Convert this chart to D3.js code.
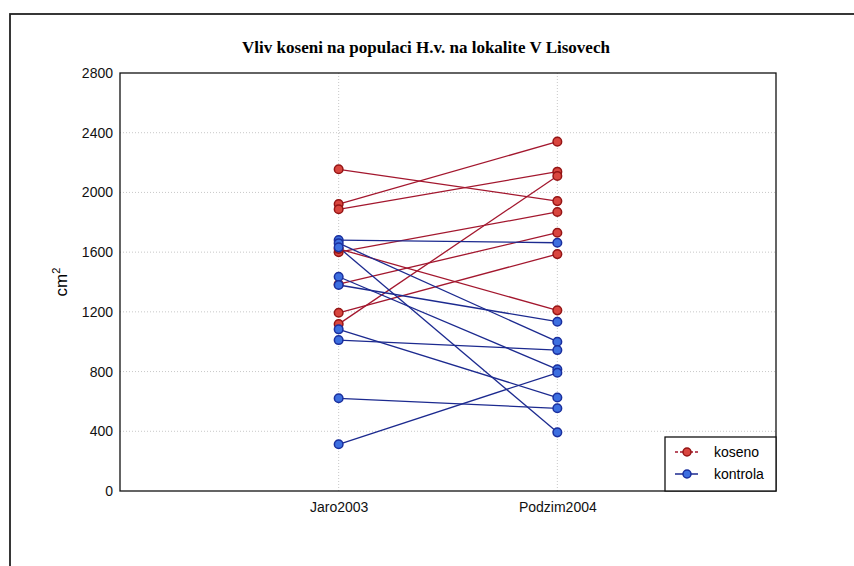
<!DOCTYPE html>
<html>
<head>
  <meta charset="utf-8">
  <script src="https://cdn.jsdelivr.net/npm/d3@7"></script>
  <style>
    html, body { margin: 0; background: #fff; }
    svg { display: block; font-family: "Liberation Sans", Arial, sans-serif; }
  </style>
</head>
<body>
<svg id="chart" width="854" height="566"></svg>
<script>
  // values
  var categories = ["Jaro2003", "Podzim2004"];
  var yTicks = [0, 400, 800, 1200, 1600, 2000, 2400, 2800];

  var kosenoJaro   = [2155, 1922, 1887, 1600, 1622, 1385, 1194, 1118];
  var kosenoPodzim = [1942, 2340, 2139, 1869, 1210, 1730, 1587, 2110];

  var kontrolaJaro   = [1681, 1660, 1632, 1435, 1380, 1083, 1011, 621, 313];
  var kontrolaPodzim = [1663, 1000, 393, 815, 1134, 626, 944, 554, 792];

  var series = [
    { name: "koseno", jaro: kosenoJaro, podzim: kosenoPodzim,
      line: "#a3172e", fill: "#d9463f", stroke: "#951515", dash: "3,2" },
    { name: "kontrola", jaro: kontrolaJaro, podzim: kontrolaPodzim,
      line: "#1c2a8f", fill: "#3d6fe0", stroke: "#1a2f9e", dash: null }
  ];

  var svg = d3.select("#chart");

  // outer frame of the scanned page
  svg.append("rect")
      .attr("x", 10).attr("y", 14)
      .attr("width", 870).attr("height", 600)
      .attr("fill", "none")
      .attr("stroke", "#222")
      .attr("stroke-width", 1.8);

  var plot = { left: 120, right: 776, top: 73, bottom: 491 };

  // four slots, categories sit on the middle two
  var x = d3.scalePoint()
      .domain(["", categories[0], categories[1], " "])
      .range([plot.left, plot.right]);

  var y = d3.scaleLinear()
      .domain([0, 2800])
      .range([plot.bottom, plot.top]);

  svg.append("text")
      .attr("x", 426).attr("y", 53)
      .attr("text-anchor", "middle")
      .style("font-family", "'Liberation Serif', 'Times New Roman', serif")
      .style("font-weight", "bold")
      .style("font-size", "17px")
      .text("Vliv koseni na populaci H.v. na lokalite V Lisovech");

  // grid
  svg.append("g")
    .selectAll("line")
    .data(yTicks.slice(1, -1))
    .enter().append("line")
      .attr("x1", plot.left).attr("x2", plot.right)
      .attr("y1", function(d) { return y(d); })
      .attr("y2", function(d) { return y(d); })
      .attr("stroke", "#c8c8c8")
      .attr("stroke-dasharray", "1,2");

  svg.append("g")
    .selectAll("line")
    .data(categories)
    .enter().append("line")
      .attr("x1", function(d) { return x(d); })
      .attr("x2", function(d) { return x(d); })
      .attr("y1", plot.top).attr("y2", plot.bottom)
      .attr("stroke", "#c8c8c8")
      .attr("stroke-dasharray", "1,2");

  // axes (labels only, no tick marks)
  var yAxis = svg.append("g")
      .attr("transform", "translate(" + plot.left + ",0)")
      .call(d3.axisLeft(y).tickValues(yTicks).tickSize(0).tickPadding(7).tickFormat(d3.format("d")));
  yAxis.select(".domain").remove();
  yAxis.selectAll("text").style("font-size", "14px").style("fill", "#111");

  var xAxis = svg.append("g")
      .attr("transform", "translate(0," + plot.bottom + ")")
      .call(d3.axisBottom(x).tickValues(categories).tickSize(0).tickPadding(11));
  xAxis.select(".domain").remove();
  xAxis.selectAll("text").style("font-size", "14px").style("fill", "#111");

  var ylab = svg.append("text")
      .attr("transform", "translate(67,282) rotate(-90)")
      .attr("text-anchor", "middle")
      .style("font-size", "17px");
  ylab.append("tspan").text("cm");
  ylab.append("tspan").attr("dy", -7).style("font-size", "11px").text("2");

  // lines
  series.forEach(function(s) {
    svg.append("g")
      .selectAll("line")
      .data(d3.range(s.jaro.length))
      .enter().append("line")
        .attr("x1", x(categories[0]))
        .attr("x2", x(categories[1]))
        .attr("y1", function(i) { return y(s.jaro[i]); })
        .attr("y2", function(i) { return y(s.podzim[i]); })
        .attr("stroke", s.line)
        .attr("stroke-width", 1.3);
  });

  // markers
  series.forEach(function(s) {
    var pts = [];
    s.jaro.forEach(function(v) { pts.push([categories[0], v]); });
    s.podzim.forEach(function(v) { pts.push([categories[1], v]); });
    svg.append("g")
      .selectAll("circle")
      .data(pts)
      .enter().append("circle")
        .attr("cx", function(d) { return x(d[0]); })
        .attr("cy", function(d) { return y(d[1]); })
        .attr("r", 4.3)
        .attr("fill", s.fill)
        .attr("stroke", s.stroke)
        .attr("stroke-width", 1.5);
  });

  // plot frame
  svg.append("rect")
      .attr("x", plot.left).attr("y", plot.top)
      .attr("width", plot.right - plot.left)
      .attr("height", plot.bottom - plot.top)
      .attr("fill", "none")
      .attr("stroke", "#111")
      .attr("stroke-width", 1.3);

  // legend
  var lg = svg.append("g").attr("transform", "translate(665,437)");
  lg.append("rect")
      .attr("width", 111).attr("height", 54)
      .attr("fill", "#fff")
      .attr("stroke", "#111")
      .attr("stroke-width", 1.3);

  var item = lg.selectAll("g.item")
      .data(series)
      .enter().append("g")
      .attr("transform", function(d, i) { return "translate(0," + (15 + i * 22) + ")"; });

  item.append("line")
      .attr("x1", 10).attr("x2", 33)
      .attr("stroke", function(d) { return d.line; })
      .attr("stroke-width", 1.5)
      .attr("stroke-dasharray", function(d) { return d.dash; });

  item.append("circle")
      .attr("cx", 22).attr("r", 4)
      .attr("fill", function(d) { return d.fill; })
      .attr("stroke", function(d) { return d.stroke; })
      .attr("stroke-width", 1.5);

  item.append("text")
      .attr("x", 49).attr("dy", "0.35em")
      .style("font-size", "14px")
      .text(function(d) { return d.name; });
</script>
</body>
</html>
